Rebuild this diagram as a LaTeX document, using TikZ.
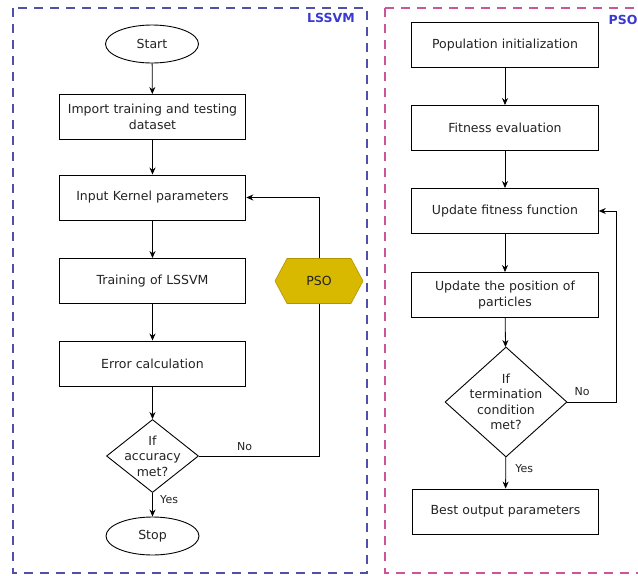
\documentclass[tikz,border=0pt]{standalone}
\usepackage{fontspec}
\setmainfont{DejaVu Sans}
\usetikzlibrary{shapes.geometric,arrows.meta}
\definecolor{lsblue}{HTML}{5050A8}
\definecolor{lbl}{HTML}{3A3AD0}
\definecolor{psopink}{HTML}{CC5599}
\definecolor{hexfill}{HTML}{D9B800}
\definecolor{hexdraw}{HTML}{B09400}
\definecolor{txt}{HTML}{222222}
\tikzset{
  basefont/.style={font=\fontsize{12.5}{15.5}\selectfont, text=txt},
  stepbox/.style={draw, line width=0.9pt, minimum width=185pt, minimum height=45pt, align=center, basefont, text width=180pt},
  terminal/.style={draw, line width=0.9pt, ellipse, minimum width=93pt, minimum height=38pt, basefont},
  decide/.style={draw, line width=0.9pt, diamond, inner sep=0pt},
  dtext/.style={align=center, basefont, inner sep=0pt},
  conn/.style={line width=0.8pt, -{Stealth[length=7pt,width=6pt]}},
  lab/.style={font=\fontsize{11}{13}\selectfont, text=txt},
  region/.style={line width=1.3pt, dash pattern=on 9pt off 7pt},
  reglab/.style={font=\bfseries\fontsize{12.5}{15}\selectfont, text=lbl},
}
\begin{document}
\begin{tikzpicture}[x=1pt,y=-1pt]
\useasboundingbox (0,0) rectangle (638,576);
% regions
\draw[region, lsblue] (13,8) rectangle (367,573);
\node[reglab] (lslab) at (331,18) {LSSVM};
\draw[region, psopink] (385,8) -- (650,8);
\draw[region, psopink] (385,8) -- (385,573) -- (650,573);
\node[reglab] (psolab) at (623,20) {PSO};
% left column
\node[terminal] (startn) at (152,44) {Start};
\node[stepbox] (import) at (152.5,117) {Import training and testing\\dataset};
\node[stepbox] (kernel) at (152.5,197.5) {Input Kernel parameters};
\node[stepbox] (train) at (152.5,281) {Training of LSSVM};
\node[stepbox] (err) at (152.5,363.5) {Error calculation};
\node[decide, minimum width=92pt, minimum height=73pt] (acc) at (152.5,456) {};
\node[dtext] (acctxt) at (152.5,456) {If\\accuracy\\met?};
\node[terminal] (stopn) at (152.5,536) {Stop};
\path[draw=hexdraw, fill=hexfill, line width=0.6pt] (275,281) -- (287,258.5) -- (351,258.5) -- (363,281) -- (351,303.5) -- (287,303.5) -- cycle;
\node[basefont, minimum height=45pt] (psotxt) at (319,281) {PSO};
\coordinate (c1) at (319,456);
\coordinate (c2) at (319,197.5);
\draw[conn] (startn) -- (import);
\draw[conn] (import) -- (kernel);
\draw[conn] (kernel) -- (train);
\draw[conn] (train) -- (err);
\draw[conn] (err) -- (acc);
\draw[conn] (acc) -- node[lab, right=4pt, pos=0.3] {Yes} (stopn);
\draw[line width=0.8pt] (acc.east) -- node[lab, above=2pt, pos=0.38] {No} (c1) -- (psotxt.south);
\draw[conn] (psotxt.north) -- (c2) -- (kernel.east);
% right column
\node[stepbox] (popn) at (505,45) {Population initialization};
\node[stepbox] (fit) at (505,128) {Fitness evaluation};
\node[stepbox] (upd) at (505,211) {Update fitness function};
\node[stepbox] (posn) at (505,295) {Update the position of\\particles};
\node[decide, minimum width=122pt, minimum height=110pt] (termc) at (506,402) {};
\node[dtext] (termtxt) at (506,402) {If\\termination\\condition\\met?};
\node[stepbox] (best) at (505.5,511.5) {Best output parameters};
\coordinate (d1) at (616,402);
\coordinate (d2) at (616,211);
\draw[conn] (popn) -- (fit);
\draw[conn] (fit) -- (upd);
\draw[conn] (upd) -- (posn);
\draw[conn] (posn) -- (termc);
\draw[conn] (termc) -- node[lab, right=6pt, pos=0.35] {Yes} (best);
\draw[conn] (termc.east) -- node[lab, above=3pt, pos=0.3] {No} (d1) -- (d2) -- (upd.east);
\end{tikzpicture}
\end{document}
